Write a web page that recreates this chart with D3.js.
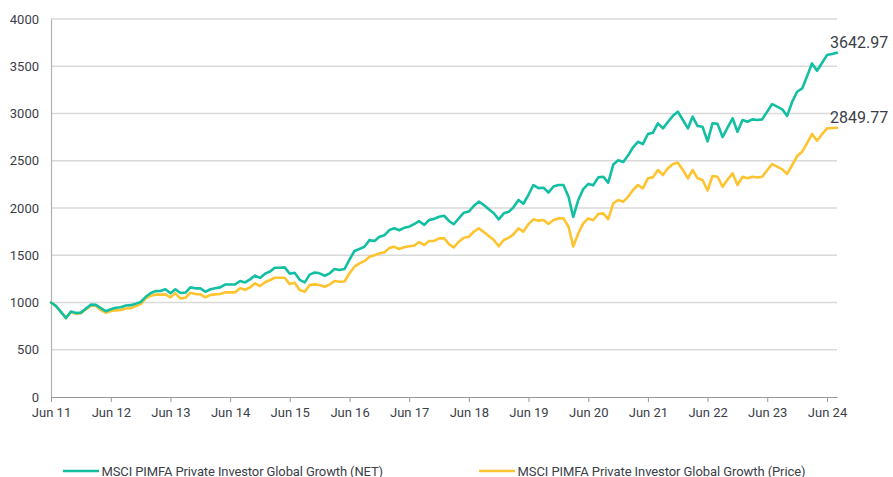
<!DOCTYPE html>
<html><head><meta charset="utf-8">
<script src="https://cdn.jsdelivr.net/npm/d3@7"></script>
<style>
body{margin:0;background:#fff}
svg{display:block;font-family:Roboto,"Noto Sans",sans-serif}
</style>
</head><body>
<svg id="c" width="893" height="477"></svg>
<script>
const seriesNames = ["MSCI PIMFA Private Investor Global Growth (NET)", "MSCI PIMFA Private Investor Global Growth (Price)"];
const seriesColors = ["#13bfa3", "#fec430"];
const startMonth = "2011-06";
const netValues = [
1000,965,900,835,905,888,893,935,978,975,
940,908,928,945,950,968,972,988,1005,1060,
1100,1120,1122,1140,1097,1140,1100,1105,1160,1150,
1150,1114,1140,1150,1160,1190,1190,1190,1228,1212,
1245,1285,1260,1305,1328,1368,1368,1372,1305,1315,
1240,1213,1295,1318,1309,1283,1309,1354,1343,1354,
1455,1545,1566,1592,1660,1650,1695,1712,1768,1786,
1765,1790,1802,1830,1860,1822,1873,1885,1908,1918,
1860,1828,1890,1950,1962,2021,2067,2032,1986,1944,
1880,1944,1961,2007,2085,2045,2140,2243,2210,2215,
2162,2228,2243,2243,2120,1905,2085,2200,2255,2240,
2324,2331,2268,2460,2505,2487,2560,2640,2701,2676,
2783,2796,2896,2843,2910,2975,3019,2931,2843,2966,
2867,2860,2705,2896,2890,2750,2850,2949,2807,2931,
2913,2938,2931,2938,3020,3100,3072,3044,2975,3125,
3230,3265,3400,3530,3452,3535,3618,3630,3642.97];
const priceValues = [
1000,962,898,833,900,880,886,928,965,965,
920,892,910,917,920,937,940,963,984,1044,
1072,1083,1083,1086,1055,1097,1044,1050,1103,1090,
1086,1055,1080,1086,1090,1107,1107,1107,1150,1135,
1160,1203,1174,1215,1238,1262,1262,1262,1195,1210,
1132,1114,1185,1192,1185,1167,1192,1227,1220,1222,
1309,1379,1414,1440,1485,1500,1520,1531,1578,1590,
1566,1585,1595,1600,1640,1608,1650,1652,1679,1679,
1615,1584,1643,1686,1696,1749,1785,1745,1703,1661,
1595,1661,1686,1721,1785,1750,1830,1880,1866,1873,
1831,1873,1890,1890,1802,1592,1732,1838,1890,1870,
1936,1943,1883,2050,2085,2067,2120,2190,2243,2208,
2314,2324,2402,2349,2420,2465,2480,2402,2314,2402,
2314,2296,2185,2339,2331,2225,2300,2367,2243,2331,
2314,2331,2322,2331,2400,2465,2437,2409,2360,2455,
2550,2596,2690,2783,2712,2780,2843,2847,2849.77];
const endLabels = ["3642.97", "2849.77"];
const yTicks = [0,500,1000,1500,2000,2500,3000,3500,4000];
const xTickLabels = ["Jun 11","Jun 12","Jun 13","Jun 14","Jun 15","Jun 16","Jun 17","Jun 18","Jun 19","Jun 20","Jun 21","Jun 22","Jun 23","Jun 24"];

const svg = d3.select("#c");
const textColor = "#3b4048";
const parseM = d3.timeParse("%Y-%m");
const d0 = parseM(startMonth);
const dates = netValues.map((_, i) => d3.timeMonth.offset(d0, i));
const x = d3.scaleTime().domain([d0, dates[dates.length-1]]).range([51, 837]);
const y = d3.scaleLinear().domain([0, 4000]).range([397, 19]);

// gridlines
svg.append("g").selectAll("line").data(yTicks.filter(t => t > 0)).join("line")
  .attr("x1", 51).attr("x2", 837)
  .attr("y1", d => y(d)).attr("y2", d => y(d))
  .attr("stroke", "#d9d9d9").attr("stroke-width", 1.5);

// y axis
const yAxis = svg.append("g").attr("transform", "translate(51,0)")
  .call(d3.axisLeft(y).tickValues(yTicks).tickSize(0).tickPadding(12).tickFormat(d3.format("d")));
yAxis.select(".domain").attr("stroke", "#b0b0b0").attr("stroke-width", 1.2);
yAxis.selectAll("text").attr("fill", textColor).style("font-size", "13px").style("font-family", "Roboto");

// x axis
const tickDates = xTickLabels.map((_, i) => d3.timeYear.offset(d0, i));
const xAxis = svg.append("g").attr("transform", "translate(0,397)")
  .call(d3.axisBottom(x).tickValues(tickDates).tickSize(5).tickSizeOuter(0).tickPadding(6)
    .tickFormat((d, i) => xTickLabels[i]));
xAxis.select(".domain").attr("stroke", "#999").attr("stroke-width", 1.2);
xAxis.selectAll(".tick line").attr("stroke", "#999");
xAxis.selectAll("text").attr("fill", textColor).style("font-size", "13px").style("font-family", "Roboto");

// lines
const series = [netValues, priceValues];
const line = d3.line().x((d, i) => x(dates[i])).y(d => y(d));
[1, 0].forEach(k => {
  svg.append("path").datum(series[k])
    .attr("d", line).attr("fill", "none")
    .attr("stroke", seriesColors[k]).attr("stroke-width", 2.6)
    .attr("stroke-linejoin", "round").attr("stroke-linecap", "round");
});

// end labels
series.forEach((s, k) => {
  const last = s.length - 1;
  svg.append("text")
    .attr("x", x(dates[last]) - 7).attr("y", y(s[last]) - 5)
    .attr("fill", textColor).style("font-size", "16px")
    .text(endLabels[k]);
});

// legend
const legendX = [63, 479];
seriesNames.forEach((n, k) => {
  const g = svg.append("g").attr("transform", `translate(${legendX[k]},471)`);
  g.append("line").attr("x1", 0).attr("x2", 36).attr("y1", 0).attr("y2", 0)
    .attr("stroke", seriesColors[k]).attr("stroke-width", 2.5);
  const t = g.append("text").attr("x", 38.5).attr("y", 4.5).attr("fill", textColor)
    .style("font-size", "13px").text(n);
  const target = k === 0 ? 281.5 : 288;
  const w = t.node().getComputedTextLength();
  t.style("letter-spacing", ((target - w) / n.length).toFixed(3) + "px");
});
</script>
</body></html>
